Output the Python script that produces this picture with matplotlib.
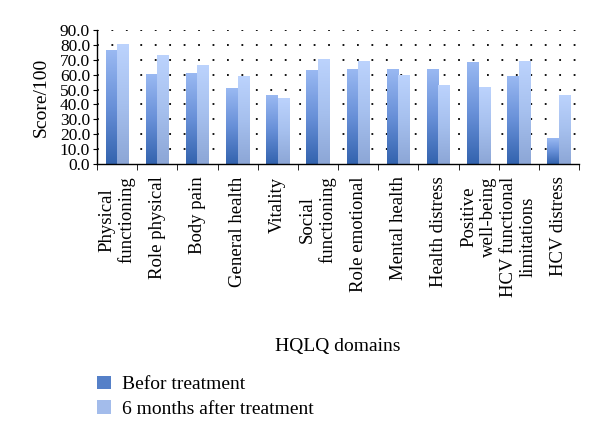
import numpy as np
import matplotlib
matplotlib.use("Agg")
import matplotlib.pyplot as plt
from matplotlib.colors import LinearSegmentedColormap
from matplotlib.patches import Patch
from matplotlib.ticker import FormatStrFormatter

# Domains and scores
domains = ["Physical\nfunctioning", "Role physical", "Body pain", "General health",
           "Vitality", "Social\nfunctioning", "Role emotional", "Mental health",
           "Health distress", "Positive\nwell-being", "HCV functional\nlimitations",
           "HCV distress"]
before = [76.1, 60.2, 60.9, 50.8, 46.1, 62.5, 63.8, 63.4, 63.8, 68.0, 58.6, 17.2]
after = [80.0, 73.0, 66.3, 59.1, 43.9, 70.3, 69.2, 59.6, 52.8, 51.7, 69.2, 46.3]
series_names = ["Befor treatment", "6 months after treatment"]
yticks = np.arange(0, 91, 10)

plt.rcParams["font.family"] = ["Liberation Serif", "DejaVu Serif"]
plt.rcParams["font.size"] = 14

# Gradient colormaps (bottom -> top)
cmap_before = LinearSegmentedColormap.from_list("before", ["#3363ae", "#6890d8", "#9ab9f2"])
cmap_after = LinearSegmentedColormap.from_list("after", ["#8ca6d6", "#a6c0ee", "#bcd3fd"])

fig = plt.figure(figsize=(6, 4.42), dpi=100)
ax = fig.add_axes([0.1617, 0.629, 0.8033, 0.303])

x = np.arange(len(domains))
w = 0.286
grad = np.linspace(0, 1, 256).reshape(-1, 1)

# Dotted horizontal gridlines (drawn under the bars)
ax.hlines(yticks[1:], -0.5, len(domains) - 0.5, colors="black",
          linestyles=[(0, (1, 7))], linewidth=1.3, zorder=1)

# Draw each bar as a vertical gradient image
for xi, b, a in zip(x, before, after):
    ax.imshow(grad, cmap=cmap_before, origin="lower", aspect="auto",
              extent=[xi - w, xi, 0, b], zorder=2)
    ax.imshow(grad, cmap=cmap_after, origin="lower", aspect="auto",
              extent=[xi, xi + w, 0, a], zorder=2)

ax.set_xlim(-0.5, len(domains) - 0.5)
ax.set_ylim(0, 90)
ax.grid(False)

# Spines
ax.spines["top"].set_visible(False)
ax.spines["right"].set_visible(False)
ax.spines["left"].set_linewidth(1.0)
ax.spines["bottom"].set_linewidth(1.0)
ax.spines["left"].set_zorder(3)
ax.spines["bottom"].set_zorder(3)

# Y axis
ax.set_yticks(yticks)
ax.yaxis.set_major_formatter(FormatStrFormatter("%.1f"))
ax.tick_params(axis="y", direction="out", length=3, pad=2, labelsize=12.5)
ax.set_ylabel("Score/100", fontsize=14, labelpad=7)

# X axis: labels at centres, tick marks at boundaries
ax.set_xticks(x)
ax.set_xticklabels(domains, rotation=90, ha="center", va="top", multialignment="center")
ax.tick_params(axis="x", which="major", length=0, pad=9, labelsize=13.5)
ax.set_xticks(np.arange(-0.5, len(domains), 1), minor=True)
ax.tick_params(axis="x", which="minor", direction="out", length=4)

fig.text(0.5625, 0.215, "HQLQ domains", ha="center", va="center", fontsize=14)

# Legend
handles = [Patch(facecolor="#5580c8", edgecolor="none"),
           Patch(facecolor="#a3bceb", edgecolor="none")]
fig.legend(handles, series_names, loc="upper left", bbox_to_anchor=(0.162, 0.150),
           frameon=False, fontsize=14, handlelength=0.7, handleheight=0.7,
           handletextpad=0.55, labelspacing=0.35, borderaxespad=0, borderpad=0)

plt.savefig("out.png", dpi=100)
